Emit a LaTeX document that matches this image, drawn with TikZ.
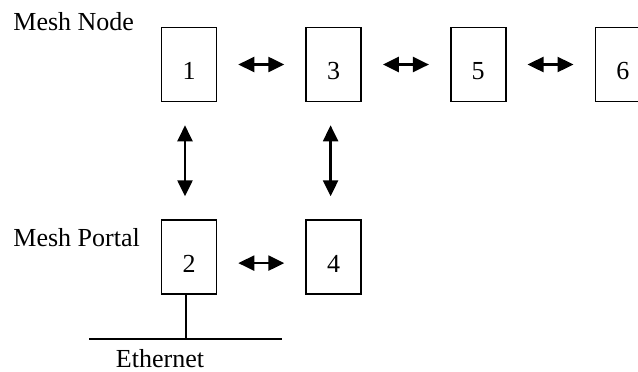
\documentclass[tikz,border=0pt]{standalone}
\usepackage{fontspec}
\setmainfont{Liberation Serif}
\usetikzlibrary{arrows.meta, positioning}
\tikzset{
  meshbox/.style={rectangle, draw=black, line width=0.8pt, inner sep=0pt,
    minimum width=27.5pt, minimum height=37pt, text height=15pt, text depth=0pt,
    font=\fontsize{13}{15}\selectfont},
  tag/.style={font=\fontsize{13}{15}\selectfont, inner sep=0pt},
  link/.style={{Triangle[length=8pt,width=7.5pt]}-{Triangle[length=8pt,width=7.5pt]},
    line width=1.2pt},
  harrow/.style={link, shorten <=10.5pt, shorten >=10.5pt},
  varrow/.style={link, shorten <=11.5pt, shorten >=11.5pt},
  wire/.style={line width=0.8pt}
}
\begin{document}
\begin{tikzpicture}[x=0.5pt, y=-0.5pt, node distance=58.5pt and 44pt]
  \useasboundingbox (0,0) rectangle (638,371);
  % mesh nodes
  \node[meshbox] (n1) at (189,64.5) {1};
  \node[meshbox, right=of n1] (n3) {3};
  \node[meshbox, right=of n3] (n5) {5};
  \node[meshbox, right=of n5] (n6) {6};
  \node[meshbox, below=of n1] (n2) {2};
  \node[meshbox, below=of n3] (n4) {4};
  % labels
  \node[tag, anchor=base west] (lnode) at (13,30) {Mesh Node};
  \node[tag, anchor=base west] (lportal) at (13,246) {Mesh Portal};
  \node[tag, anchor=base] (leth) at (160,367) {Ethernet};
  % links
  \draw[harrow] (n1) -- (n3);
  \draw[harrow] (n3) -- (n5);
  \draw[harrow] (n5) -- (n6);
  \draw[harrow] ([yshift=-3pt]n2.east) -- ([yshift=-3pt]n4.west);
  \draw[varrow] ([xshift=-2pt]n1.south) -- ([xshift=-2pt]n2.north);
  \draw[varrow] ([xshift=-1.5pt]n3.south) -- ([xshift=-1.5pt]n4.north);
  % ethernet
  \coordinate (ethL) at (89,339);
  \coordinate (ethR) at (282,339);
  \draw[wire] (ethL) -- (ethR);
  \draw[wire] ([xshift=-1.5pt]n2.south) -- ([xshift=-1.5pt]n2.south |- ethL);
\end{tikzpicture}
\end{document}
